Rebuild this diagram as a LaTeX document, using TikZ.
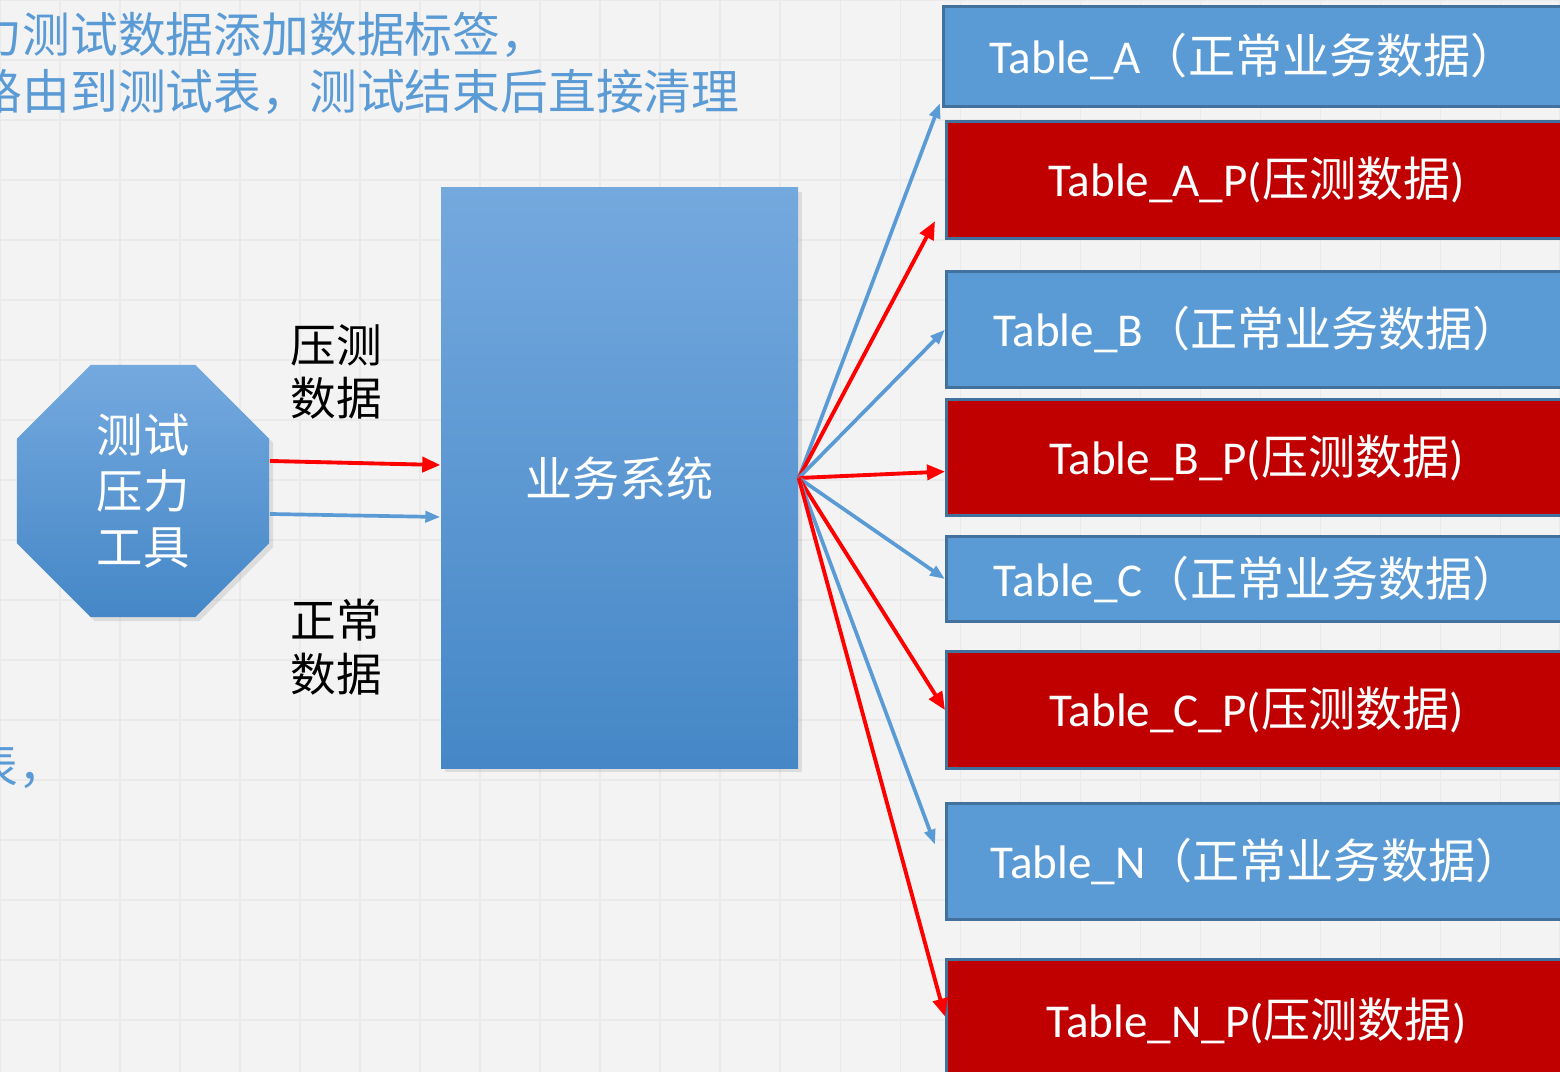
\documentclass[tikz,border=0pt]{standalone}
\usepackage{fontspec}
\setmainfont{Carlito}
\newfontfamily\cjk{Noto Sans CJK SC}
\usepackage{tikz}
\usetikzlibrary{arrows.meta, calc, positioning, shapes.geometric, shadows}
\definecolor{bggray}{HTML}{F3F3F3}
\definecolor{gridgray}{HTML}{EAEAEA}
\definecolor{tblblue}{HTML}{5B9BD5}
\definecolor{tblred}{HTML}{C00000}
\definecolor{tblborder}{HTML}{41719C}
\definecolor{shadetop}{HTML}{74A9DE}
\definecolor{shadebot}{HTML}{4587C7}

\begin{document}
\begin{tikzpicture}[
    every node/.style={inner sep=0pt, align=center},
    tbl/.style={draw=tblborder, line width=0.9pt, anchor=north west, minimum width=6.2cm,
      text=white, font=\fontsize{13.4pt}{16pt}\selectfont},
    normal/.style={tbl, fill=tblblue},
    stress/.style={tbl, fill=tblred},
    shaded/.style={top color=shadetop, bottom color=shadebot, text=white,
      drop shadow={opacity=0.2, shadow xshift=0.04cm, shadow yshift=-0.04cm}},
    note/.style={anchor=base west, text=tblblue, font=\cjk\fontsize{13.6pt}{16pt}\selectfont},
    lbl/.style={text=black, font=\cjk\fontsize{13pt}{15.3pt}\selectfont},
    redarrow/.style={-{Triangle[length=0.18cm,width=0.15cm]}, red, line width=1.1pt},
    bluearrow/.style={-{Triangle[length=0.15cm,width=0.11cm]}, tblblue, line width=1.05pt}
]
\useasboundingbox (0,0) rectangle (15.6,-10.72);
\clip (0,0) rectangle (15.6,-10.72);

% Background
\fill[bggray] (0,0) rectangle (15.6,-10.72);
\draw[gridgray, line width=0.3pt] (0,-10.72) grid[step=0.6] (15.6,0);

% Notes
\node[note] (note1) at (-0.26,-0.53) {力测试数据添加数据标签，};
\node[note] (note2) at (-0.26,-1.10) {路由到测试表，测试结束后直接清理};
\node[note] (note3) at (-0.30,-7.83) {表，};

% Nodes
\node[shaded, regular polygon, regular polygon sides=8, minimum size=2.73cm,
  font=\cjk\fontsize{13.2pt}{15.8pt}\selectfont] (tool) at (1.43,-4.91) {测试\\压力\\工具};
\node[shaded, minimum width=3.57cm, minimum height=5.8cm,
  font=\cjk\fontsize{13.4pt}{16pt}\selectfont] (sys) at (6.195,-4.78) {业务系统};
\node[lbl] (stresslbl) at (3.36,-3.72) {压测\\数据};
\node[lbl] (normallbl) at (3.36,-6.47) {正常\\数据};

\node[normal, minimum height=1.00cm] (tA) at (9.42,-0.05) {Table\_A{\cjk（正常业务数据）}};
\node[stress, minimum height=1.17cm] (tAP) at (9.45,-1.20) {Table\_A\_P({\cjk 压测数据})};
\node[normal, minimum height=1.16cm] (tB) at (9.45,-2.70) {Table\_B{\cjk（正常业务数据）}};
\node[stress, minimum height=1.16cm] (tBP) at (9.45,-3.98) {Table\_B\_P({\cjk 压测数据})};
\node[normal, minimum height=0.85cm] (tC) at (9.45,-5.35) {Table\_C{\cjk（正常业务数据）}};
\node[stress, minimum height=1.17cm] (tCP) at (9.45,-6.50) {Table\_C\_P({\cjk 压测数据})};
\node[normal, minimum height=1.16cm] (tN) at (9.45,-8.02) {Table\_N{\cjk（正常业务数据）}};
\node[stress, minimum height=1.22cm] (tNP) at (9.45,-9.58) {Table\_N\_P({\cjk 压测数据})};

% Arrows
\draw[redarrow] ([yshift=0.30cm]tool.east) -- ([yshift=0.13cm]sys.west);
\draw[bluearrow] ([yshift=-0.23cm]tool.east) -- ([yshift=-0.39cm]sys.west);

\coordinate (hub) at (sys.east);
\draw[bluearrow] (hub) -- ([shift={(-0.02,0.05)}]tA.south west);
\draw[redarrow] (hub) -- ([shift={(-0.10,0.19)}]tAP.south west);
\draw[bluearrow] (hub) -- (tB.west);
\draw[redarrow] (hub) -- ([yshift=-0.14cm]tBP.west);
\draw[bluearrow] (hub) -- (tC.west);
\draw[redarrow] (hub) -- (tCP.west);
\draw[bluearrow] (hub) -- ([shift={(-0.10,0.17)}]tN.west);
\draw[redarrow] (hub) -- ([yshift=0.04cm]tNP.west);

\end{tikzpicture}
\end{document}
